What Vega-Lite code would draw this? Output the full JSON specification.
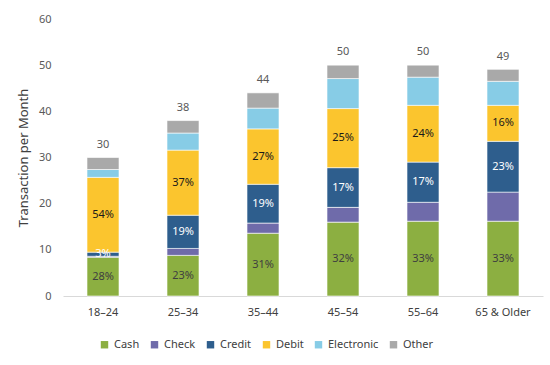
{
  "$schema": "https://vega.github.io/schema/vega-lite/v6.json",
  "width": 480,
  "height": 277,
  "autosize": {"type": "none"},
  "padding": {"left": 63, "top": 19, "right": 7, "bottom": 69},
  "background": "white",
  "config": {
    "font": "Noto Sans",
    "view": {"stroke": null}
  },
  "datasets": {
    "seg": [
      {"age": "18–24", "method": "Cash", "order": 1, "value": 8.4, "label": "28%"},
      {"age": "18–24", "method": "Check", "order": 2, "value": 0.2, "label": ""},
      {"age": "18–24", "method": "Credit", "order": 3, "value": 0.9, "label": "3%"},
      {"age": "18–24", "method": "Debit", "order": 4, "value": 16.2, "label": "54%"},
      {"age": "18–24", "method": "Electronic", "order": 5, "value": 1.7, "label": ""},
      {"age": "18–24", "method": "Other", "order": 6, "value": 2.6, "label": ""},
      {"age": "25–34", "method": "Cash", "order": 1, "value": 8.8, "label": "23%"},
      {"age": "25–34", "method": "Check", "order": 2, "value": 1.5, "label": ""},
      {"age": "25–34", "method": "Credit", "order": 3, "value": 7.2, "label": "19%"},
      {"age": "25–34", "method": "Debit", "order": 4, "value": 14.1, "label": "37%"},
      {"age": "25–34", "method": "Electronic", "order": 5, "value": 3.7, "label": ""},
      {"age": "25–34", "method": "Other", "order": 6, "value": 2.7, "label": ""},
      {"age": "35–44", "method": "Cash", "order": 1, "value": 13.6, "label": "31%"},
      {"age": "35–44", "method": "Check", "order": 2, "value": 2.2, "label": ""},
      {"age": "35–44", "method": "Credit", "order": 3, "value": 8.4, "label": "19%"},
      {"age": "35–44", "method": "Debit", "order": 4, "value": 12.0, "label": "27%"},
      {"age": "35–44", "method": "Electronic", "order": 5, "value": 4.5, "label": ""},
      {"age": "35–44", "method": "Other", "order": 6, "value": 3.3, "label": ""},
      {"age": "45–54", "method": "Cash", "order": 1, "value": 16.0, "label": "32%"},
      {"age": "45–54", "method": "Check", "order": 2, "value": 3.2, "label": ""},
      {"age": "45–54", "method": "Credit", "order": 3, "value": 8.6, "label": "17%"},
      {"age": "45–54", "method": "Debit", "order": 4, "value": 12.8, "label": "25%"},
      {"age": "45–54", "method": "Electronic", "order": 5, "value": 6.5, "label": ""},
      {"age": "45–54", "method": "Other", "order": 6, "value": 2.9, "label": ""},
      {"age": "55–64", "method": "Cash", "order": 1, "value": 16.2, "label": "33%"},
      {"age": "55–64", "method": "Check", "order": 2, "value": 4.1, "label": ""},
      {"age": "55–64", "method": "Credit", "order": 3, "value": 8.7, "label": "17%"},
      {"age": "55–64", "method": "Debit", "order": 4, "value": 12.3, "label": "24%"},
      {"age": "55–64", "method": "Electronic", "order": 5, "value": 6.1, "label": ""},
      {"age": "55–64", "method": "Other", "order": 6, "value": 2.6, "label": ""},
      {"age": "65 & Older", "method": "Cash", "order": 1, "value": 16.2, "label": "33%"},
      {"age": "65 & Older", "method": "Check", "order": 2, "value": 6.3, "label": ""},
      {"age": "65 & Older", "method": "Credit", "order": 3, "value": 11.0, "label": "23%"},
      {"age": "65 & Older", "method": "Debit", "order": 4, "value": 7.8, "label": "16%"},
      {"age": "65 & Older", "method": "Electronic", "order": 5, "value": 5.2, "label": ""},
      {"age": "65 & Older", "method": "Other", "order": 6, "value": 2.6, "label": ""}
    ],
    "tot": [
      {"age": "18–24", "total": 30},
      {"age": "25–34", "total": 38},
      {"age": "35–44", "total": 44},
      {"age": "45–54", "total": 50},
      {"age": "55–64", "total": 50},
      {"age": "65 & Older", "total": 49}
    ]
  },
  "layer": [
    {
      "data": {"name": "seg"},
      "transform": [
        {"stack": "value", "groupby": ["age"], "sort": [{"field": "order", "order": "ascending"}], "as": ["y0", "y1"]}
      ],
      "mark": {"type": "bar", "width": 32, "stroke": "white", "strokeWidth": 0.6},
      "encoding": {
        "x": {
          "field": "age", "type": "nominal", "sort": null,
          "scale": {"paddingInner": 0.6, "paddingOuter": 0.3},
          "axis": {"title": null, "labelAngle": 0, "ticks": false, "domainColor": "#d9d9d9", "labelColor": "#404040", "labelFontSize": 11, "labelPadding": 10}
        },
        "y": {
          "field": "y0", "type": "quantitative",
          "scale": {"domain": [0, 60]},
          "axis": {"title": "Transaction per Month", "titleFontSize": 13, "titleFontWeight": "normal", "titleColor": "#404040", "titlePadding": 8, "values": [0, 10, 20, 30, 40, 50, 60], "grid": false, "domain": false, "ticks": false, "labelColor": "#595959", "labelFontSize": 11, "labelPadding": 12}
        },
        "y2": {"field": "y1"},
        "color": {
          "field": "method", "type": "nominal",
          "scale": {
            "domain": ["Cash", "Check", "Credit", "Debit", "Electronic", "Other"],
            "range": ["#8CAF41", "#6F6BAA", "#2E5E8D", "#FBC52E", "#87CCE6", "#A9A9A9"]
          },
          "legend": {
            "title": null, "orient": "none", "direction": "horizontal",
            "legendX": 36, "legendY": 320,
            "symbolType": "square", "symbolSize": 55, "symbolStrokeWidth": 0,
            "labelFontSize": 11, "labelColor": "#404040", "columnPadding": 9, "labelOffset": 4
          }
        }
      }
    },
    {
      "data": {"name": "seg"},
      "transform": [
        {"stack": "value", "groupby": ["age"], "sort": [{"field": "order", "order": "ascending"}], "as": ["y0", "y1"]},
        {"calculate": "(datum.y0 + datum.y1) / 2", "as": "ymid"}
      ],
      "mark": {"type": "text", "fontSize": 11, "baseline": "middle"},
      "encoding": {
        "x": {"field": "age", "type": "nominal", "sort": null},
        "y": {"field": "ymid", "type": "quantitative"},
        "text": {"field": "label"},
        "color": {
          "condition": [
            {"test": "datum.method === 'Credit'", "value": "#ffffff"},
            {"test": "datum.method === 'Cash'", "value": "#404040"}
          ],
          "value": "#1a1a1a"
        }
      }
    },
    {
      "data": {"name": "tot"},
      "mark": {"type": "text", "fontSize": 11, "baseline": "bottom", "dy": -8, "color": "#595959"},
      "encoding": {
        "x": {"field": "age", "type": "nominal", "sort": null},
        "y": {"field": "total", "type": "quantitative"},
        "text": {"field": "total"}
      }
    }
  ]
}
